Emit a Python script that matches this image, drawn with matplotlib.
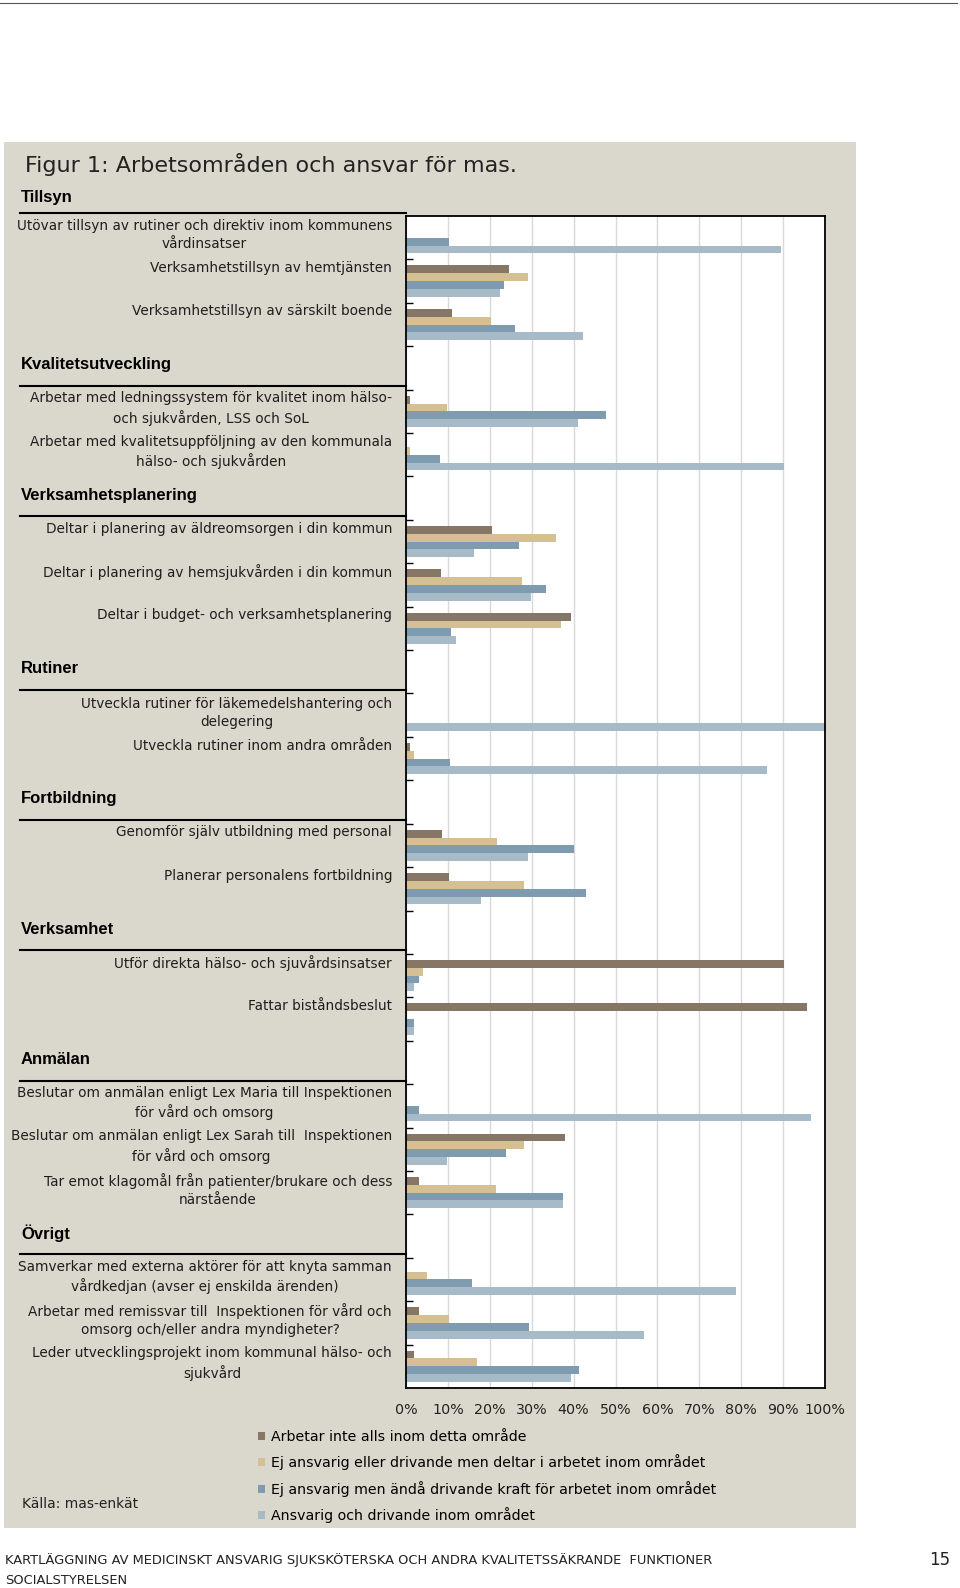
import numpy as np
import matplotlib
matplotlib.use("Agg")
import matplotlib.pyplot as plt
import matplotlib.transforms as mtransforms
from matplotlib.patches import Rectangle
from matplotlib.lines import Line2D

# --- data (percent of respondents) ---
groups = ["Tillsyn", "Kvalitetsutveckling", "Verksamhetsplanering", "Rutiner",
          "Fortbildning", "Verksamhet", "Anmälan", "Övrigt"]
rows = [
    ["Utövar tillsyn av rutiner och direktiv inom kommunens\nvårdinsatser",
     "Verksamhetstillsyn av hemtjänsten",
     "Verksamhetstillsyn av särskilt boende"],
    ["Arbetar med ledningssystem för kvalitet inom hälso-\noch sjukvården, LSS och SoL",
     "Arbetar med kvalitetsuppföljning av den kommunala\nhälso- och sjukvården"],
    ["Deltar i planering av äldreomsorgen i din kommun",
     "Deltar i planering av hemsjukvården i din kommun",
     "Deltar i budget- och verksamhetsplanering"],
    ["Utveckla rutiner för läkemedelshantering och\ndelegering",
     "Utveckla rutiner inom andra områden"],
    ["Genomför själv utbildning med personal",
     "Planerar personalens fortbildning"],
    ["Utför direkta hälso- och sjuvårdsinsatser",
     "Fattar biståndsbeslut"],
    ["Beslutar om anmälan enligt Lex Maria till Inspektionen\nför vård och omsorg",
     "Beslutar om anmälan enligt Lex Sarah till  Inspektionen\nför vård och omsorg",
     "Tar emot klagomål från patienter/brukare och dess\nnärstående"],
    ["Samverkar med externa aktörer för att knyta samman\nvårdkedjan (avser ej enskilda ärenden)",
     "Arbetar med remissvar till  Inspektionen för vård och\nomsorg och/eller andra myndigheter?",
     "Leder utvecklingsprojekt inom kommunal hälso- och\nsjukvård"],
]
series = ["Arbetar inte alls inom detta område",
          "Ej ansvarig eller drivande men deltar i arbetet inom området",
          "Ej ansvarig men ändå drivande kraft för arbetet inom området",
          "Ansvarig och drivande inom området"]
inte_alls = [0, 24.7, 10.9, 1.0, 0, 20.5, 8.4, 39.4, 0, 1.0,
             8.7, 10.3, 90.1, 95.8, 0, 37.9, 3.1, 0, 3.1, 1.9]
deltar = [0, 29.0, 20.4, 9.9, 1.0, 35.7, 27.8, 37.1, 0, 1.9,
          21.7, 28.2, 4.1, 0, 0, 28.2, 21.5, 5.1, 10.3, 16.9]
drivande = [10.3, 23.5, 26.1, 47.7, 8.2, 27.0, 33.3, 10.7, 0, 10.6,
            40.1, 43.0, 3.1, 1.9, 3.1, 23.9, 37.5, 15.7, 29.4, 41.3]
ansvarig = [89.4, 22.4, 42.3, 41.1, 90.3, 16.2, 29.8, 12.0, 100, 86.1,
            29.2, 17.9, 1.9, 1.9, 96.7, 9.8, 37.5, 78.8, 56.7, 39.4]
xticks = [0, 10, 20, 30, 40, 50, 60, 70, 80, 90, 100]

colors = ["#867666", "#D5C093", "#7E9BAF", "#A6BBC7"]
panel_bg = "#DAD8CC"
text_font = ["DejaVu Sans"]
head_font = ["Liberation Sans", "DejaVu Sans"]

W, H = 960, 1588
fig = plt.figure(figsize=(W / 100, H / 100), dpi=100, facecolor="white")


def fx(x):
    return x / W


def fy(y):
    return 1 - y / H


# page decoration
fig.add_artist(Line2D([0, fx(957)], [fy(3), fy(3)], color="#555555", lw=0.8))
fig.add_artist(Rectangle((fx(4), fy(1528)), fx(856) - fx(4), fy(142) - fy(1528),
                         transform=fig.transFigure, facecolor=panel_bg,
                         edgecolor="none", zorder=0))

ax = fig.add_axes([fx(406), fy(1388), fx(825) - fx(406), fy(216) - fy(1388)])
ax.set_facecolor("white")

# slot layout: one empty slot per group header (except the first)
row_pos = []
header_pos = []
slot = 0
for gi, g in enumerate(groups):
    if gi == 0:
        header_pos.append(-1)
    else:
        header_pos.append(slot)
        slot += 1
    for r in rows[gi]:
        row_pos.append(slot)
        slot += 1
n_slots = slot
row_pos = np.array(row_pos)
labels = [r for grp in rows for r in grp]

values = [inte_alls, deltar, drivande, ansvarig]
offsets = [-0.27, -0.09, 0.09, 0.27]
handles = []
for vals, off, c, name in zip(values, offsets, colors, series):
    h = ax.barh(row_pos + off, vals, height=0.18, color=c, label=name, zorder=2)
    handles.append(h)

ax.set_xlim(0, 100)
ax.set_ylim(n_slots - 0.5, -0.5)
ax.set_xticks(xticks)
ax.set_xticklabels([f"{v}%" for v in xticks], fontsize=10.3, family=text_font,
                   color="#222222")
ax.tick_params(axis="x", length=0, pad=11)
ax.xaxis.grid(True, color="#D9D9D9", lw=1, zorder=0)
ax.set_yticks(np.arange(0.5, n_slots - 0.5, 1))
ax.set_yticklabels([])
ax.tick_params(axis="y", direction="in", length=5, width=1)
for sp in ax.spines.values():
    sp.set_color("black")
    sp.set_linewidth(1.3)

trans = mtransforms.blended_transform_factory(fig.transFigure, ax.transData)

# row labels
for lab, p in zip(labels, row_pos):
    y = p - 0.06 if "\n" in lab else p - 0.3
    fig.text(fx(392), y, lab, transform=trans, ha="right",
             va="center", multialignment="center", fontsize=9.8,
             family=text_font, color="#1e1e1e", linespacing=1.35)

# group headers and separator lines (line sits a little above the slot edge)
for g, hp in zip(groups, header_pos):
    ty = hp + 0.08 if hp < 0 else hp - 0.07
    fig.text(fx(21), ty, g, transform=trans,
             ha="left", va="center", fontsize=12, fontweight="bold",
             family=head_font, color="black")
    fig.add_artist(Line2D([fx(20), fx(406)], [hp + 0.42, hp + 0.42],
                          transform=trans, color="black", lw=1.5))

fig.text(fx(25), fy(165), "Figur 1: Arbetsområden och ansvar för mas.",
         fontsize=16, family=text_font, va="center", ha="left", color="#222222")

fig.legend(handles, series, loc="upper left",
           bbox_to_anchor=(fx(258), fy(1430)), frameon=False,
           prop={"family": text_font, "size": 10.2}, handlelength=0.5,
           handleheight=0.5, handletextpad=0.45, labelspacing=0.74,
           borderaxespad=0, borderpad=0)

fig.text(fx(22), fy(1504), "Källa: mas-enkät", fontsize=10, family=text_font,
         va="center", ha="left", color="#222222")

fig.text(fx(5), fy(1560),
         "KARTLÄGGNING AV MEDICINSKT ANSVARIG SJUKSKÖTERSKA OCH ANDRA KVALITETSSÄKRANDE  FUNKTIONER",
         fontsize=9.4, family=text_font, va="center", ha="left", color="#222222")
fig.text(fx(5), fy(1580), "SOCIALSTYRELSEN", fontsize=9.4, family=text_font,
         va="center", ha="left", color="#222222")
fig.text(fx(950), fy(1560), "15", fontsize=12, family=text_font,
         va="center", ha="right", color="#222222")

fig.savefig("out.png", dpi=100, facecolor="white")
